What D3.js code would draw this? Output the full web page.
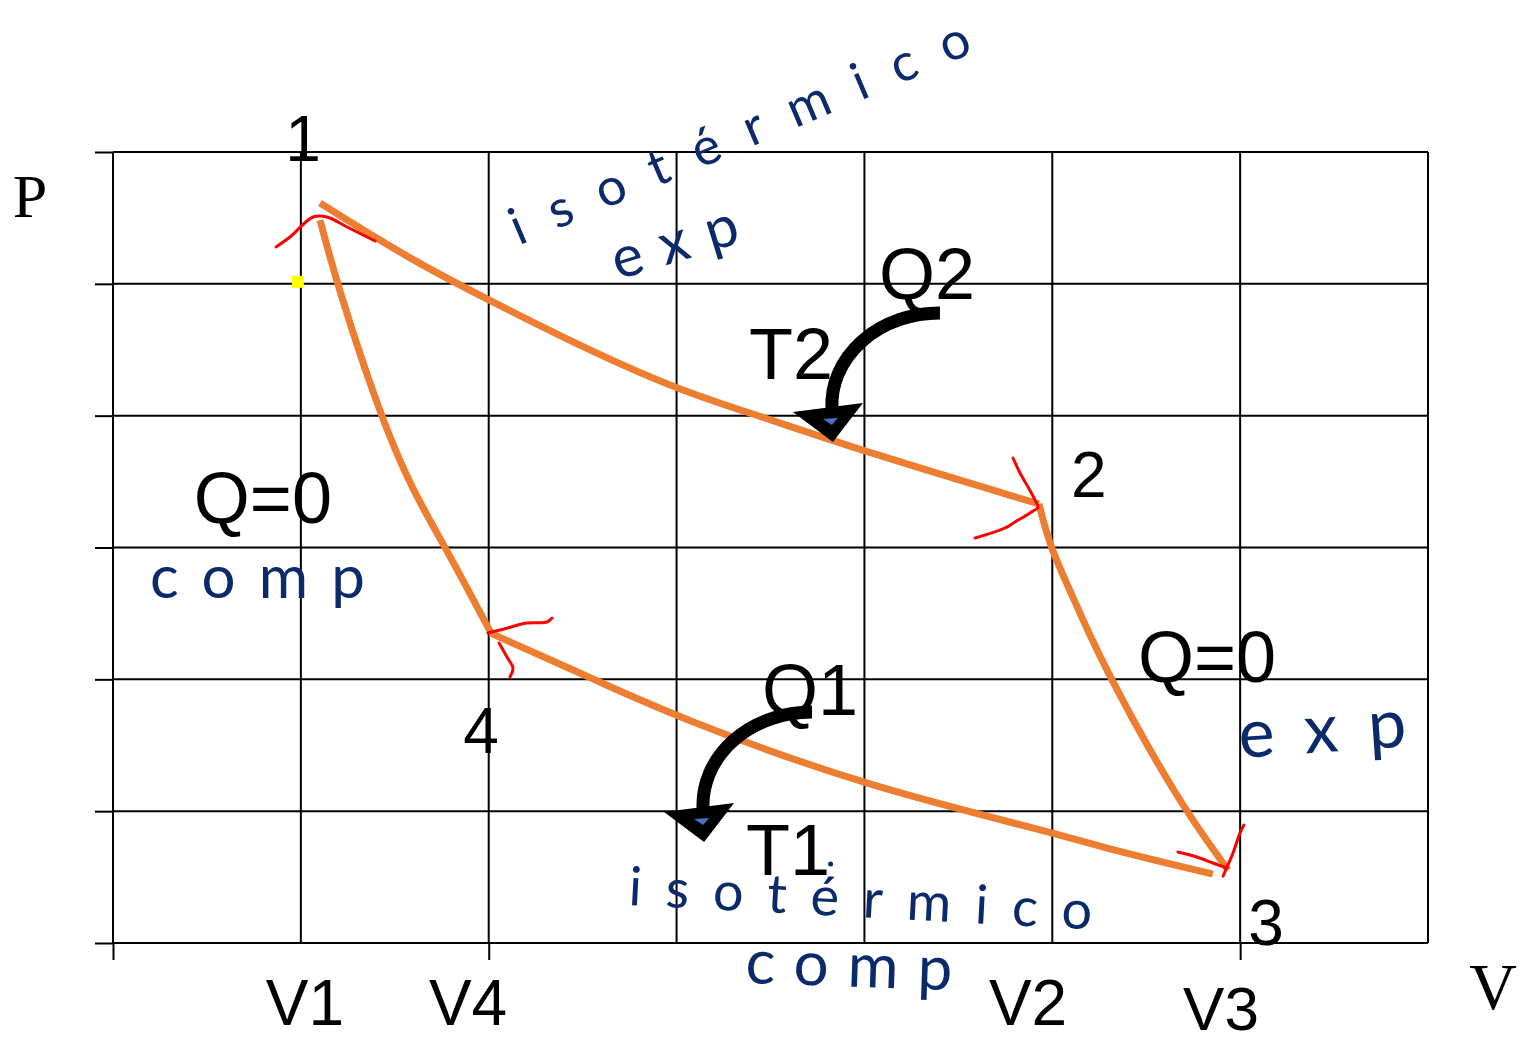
<!DOCTYPE html>
<html>
<head>
<meta charset="utf-8">
<script src="https://cdn.jsdelivr.net/npm/d3@7"></script>
<style>
  html, body { margin: 0; padding: 0; background: #fff; }
  svg { display: block; }
</style>
</head>
<body>
<div id="chart"></div>
<script>
// grid cells in (V, P) units
const xGrid = d3.range(0, 8);
const yGrid = d3.range(0, 7);
const xTickVals = [0, 2, 6];

// cycle branches
const isoHot = [[1.102, 5.613], [1.597, 5.173], [2.001, 4.877], [2.497, 4.521], [3.008, 4.195], [3.444, 3.997], [4.008, 3.724], [4.929, 3.330]];
const adiExp = [[4.929, 3.330], [4.988, 3.004], [5.094, 2.678], [5.254, 2.147], [5.664, 1.085], [5.936, 0.554]];
const isoCold = [[5.855, 0.523], [5.254, 0.728], [4.998, 0.842], [3.998, 1.191], [3.002, 1.714], [2.592, 1.980], [2.007, 2.352]];
const adiComp = [[2.012, 2.352], [1.778, 2.981], [1.592, 3.436], [1.421, 4.005], [1.192, 4.999], [1.102, 5.484]];
const branches = [isoHot, adiExp, isoCold, adiComp];

// red hand-drawn arrow ticks
const redMarks = [
  [[0.868, 5.280], [0.942, 5.355], [1.065, 5.507], [1.139, 5.507], [1.246, 5.431], [1.395, 5.325]],
  [[4.791, 3.679], [4.828, 3.565], [4.871, 3.459], [4.908, 3.360], [4.924, 3.307], [4.881, 3.262], [4.801, 3.193], [4.748, 3.148], [4.589, 3.072]],
  [[1.996, 2.352], [2.060, 2.374], [2.204, 2.427], [2.310, 2.435], [2.337, 2.465]],
  [[2.055, 2.276], [2.097, 2.169], [2.129, 2.086], [2.113, 2.018]],
  [[5.669, 0.690], [5.770, 0.652], [5.855, 0.607], [5.930, 0.569]],
  [[6.020, 0.895], [5.999, 0.834], [5.962, 0.683], [5.935, 0.592], [5.909, 0.508]]
];

// heat arrows: arc from (x0,y0) to (x1,y1)
const heatArrows = [
  { name: 'Q2', x0: 4.402, y0: 4.779, x1: 3.827, y1: 4.081 },
  { name: 'Q1', x0: 3.721, y0: 1.752, x1: 3.141, y1: 1.047 }
];

const labels = [
  { text: '1', x: 1.011, y: 5.932, size: 64 },
  { text: '2', x: 5.195, y: 3.383, size: 64 },
  { text: '3', x: 6.138, y: -0.015, size: 64 },
  { text: '4', x: 1.959, y: 1.441, size: 64 },
  { text: 'Q2', x: 4.333, y: 4.885, size: 72 },
  { text: 'T2', x: 3.609, y: 4.278, size: 72 },
  { text: 'Q=0', x: 0.798, y: 3.186, size: 72 },
  { text: 'Q=0', x: 5.824, y: 1.980, size: 72 },
  { text: 'Q1', x: 3.710, y: 1.730, size: 72 },
  { text: 'T1', x: 3.593, y: 0.516, size: 72 },
  { text: 'V1', x: 1.022, y: -0.622, size: 64 },
  { text: 'V4', x: 1.890, y: -0.622, size: 64 },
  { text: 'V2', x: 4.871, y: -0.622, size: 64 },
  { text: 'V3', x: 5.898, y: -0.66, size: 62 }
];

const axisNames = [
  { text: 'P', x: -0.442, y: 5.507, size: 62 },
  { text: 'V', x: 7.346, y: -0.501, size: 66 }
];

// handwritten notes: start point, rotation, length
const notes = [
  { text: 'isotérmico', x: 2.160, y: 5.290, rot: -23, size: 52, len: 495 },
  { text: 'exp', x: 2.688, y: 5.029, rot: -17, size: 58, len: 130 },
  { text: 'comp', x: 0.197, y: 2.617, rot: 0, size: 60, len: 215 },
  { text: 'exp', x: 5.999, y: 1.403, rot: -4, size: 68, len: 168 },
  { text: 'isotérmico', x: 2.741, y: 0.288, rot: 3, size: 54, len: 464 },
  { text: 'comp', x: 3.364, y: -0.303, rot: 2, size: 62, len: 207 }
];

const width = 1527, height = 1044;
const x = d3.scaleLinear().domain([0, 7]).range([113, 1428]);
const y = d3.scaleLinear().domain([0, 6]).range([943, 152]);

const svg = d3.select('#chart').append('svg')
    .attr('width', width)
    .attr('height', height);

// grid
const grid = svg.append('g').attr('stroke', '#000').attr('stroke-width', 2);
grid.selectAll('.vline').data(xGrid).enter().append('line')
    .attr('class', 'vline')
    .attr('x1', d => x(d)).attr('x2', d => x(d))
    .attr('y1', y(6)).attr('y2', y(0));
grid.selectAll('.hline').data(yGrid).enter().append('line')
    .attr('class', 'hline')
    .attr('x1', x(0)).attr('x2', x(7))
    .attr('y1', d => y(d)).attr('y2', d => y(d));

// tick marks via axes
const yAxis = svg.append('g')
    .attr('transform', `translate(${x(0)},0)`)
    .call(d3.axisLeft(y).tickValues(yGrid).tickSize(18).tickFormat(''));
const xAxis = svg.append('g')
    .attr('transform', `translate(0,${y(0)})`)
    .call(d3.axisBottom(x).tickValues(xTickVals).tickSize(17).tickFormat(''));
[yAxis, xAxis].forEach(a => {
    a.select('.domain').remove();
    a.selectAll('line').attr('stroke', '#000').attr('stroke-width', 2);
});

// yellow marker
svg.append('rect')
    .attr('x', x(1) - 9).attr('y', y(5) - 8)
    .attr('width', 12).attr('height', 12)
    .attr('fill', '#ffff00');

// cycle
const smooth = d3.line().x(d => x(d[0])).y(d => y(d[1])).curve(d3.curveBasis);
svg.append('g').selectAll('path').data(branches).enter().append('path')
    .attr('d', smooth)
    .attr('fill', 'none')
    .attr('stroke', '#ed7d31')
    .attr('stroke-width', 7);

const line = d3.line().x(d => x(d[0])).y(d => y(d[1])).curve(d3.curveCatmullRom.alpha(0.5));
svg.append('g').selectAll('path').data(redMarks).enter().append('path')
    .attr('d', line)
    .attr('fill', 'none')
    .attr('stroke', '#ff0000')
    .attr('stroke-width', 3)
    .attr('stroke-linecap', 'round')
    .attr('stroke-linejoin', 'round');

// heat arrows
const arrowG = svg.append('g');
heatArrows.forEach(a => {
    const px0 = x(a.x0), py0 = y(a.y0), px1 = x(a.x1), py1 = y(a.y1);
    arrowG.append('path')
        .attr('d', `M${px0},${py0} A${px0 - px1},${py1 - py0} 0 0 0 ${px1},${py1 + 4}`)
        .attr('fill', 'none')
        .attr('stroke', '#000')
        .attr('stroke-width', 13);
    arrowG.append('path')
        .attr('d', `M${px1 - 39},${py1 + 7} L${px1 + 31},${py1 - 2} L${px1 + 1},${py1 + 37} Z`)
        .attr('fill', '#000');
    arrowG.append('path')
        .attr('d', `M${px1 - 9},${py1 + 14} L${px1 + 6},${py1 + 13} L${px1},${py1 + 20} Z`)
        .attr('fill', '#4472c4');
});

// labels
svg.append('g').selectAll('text').data(labels).enter().append('text')
    .attr('x', d => x(d.x)).attr('y', d => y(d.y))
    .attr('text-anchor', 'middle')
    .attr('font-family', '"Liberation Sans", Arial, sans-serif')
    .attr('font-size', d => d.size)
    .attr('fill', '#000')
    .text(d => d.text);

svg.append('g').selectAll('text').data(axisNames).enter().append('text')
    .attr('x', d => x(d.x)).attr('y', d => y(d.y))
    .attr('text-anchor', 'middle')
    .attr('font-family', '"Liberation Serif", "Times New Roman", serif')
    .attr('font-size', d => d.size)
    .attr('fill', '#000')
    .text(d => d.text);

// handwriting
svg.append('g').selectAll('text').data(notes).enter().append('text')
    .attr('transform', d => `translate(${x(d.x)},${y(d.y)}) rotate(${d.rot})`)
    .attr('font-family', 'Lato, "Open Sans", sans-serif')
    .attr('font-weight', 400)
    .attr('font-size', d => d.size)
    .attr('textLength', d => d.len)
    .attr('lengthAdjust', 'spacing')
    .attr('fill', '#0b2a6b')
    .text(d => d.text);

svg.append('circle')
    .attr('cx', x(3.82)).attr('cy', y(0.6))
    .attr('r', 2.5)
    .attr('fill', '#0b2a6b');
</script>
</body>
</html>
